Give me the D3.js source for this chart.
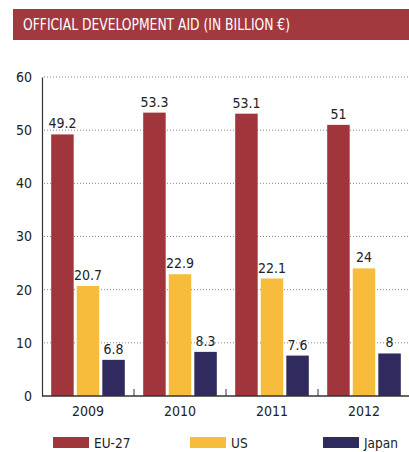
<!DOCTYPE html>
<html><head><meta charset="utf-8">
<script src="https://cdn.jsdelivr.net/npm/d3@7"></script>
<style>
html,body{margin:0;padding:0;background:#fff;}
svg{display:block;}
text{font-family:"DejaVu Sans Condensed","DejaVu Sans",sans-serif;}
</style></head>
<body><svg id="c" width="409" height="452"></svg>
<script>
const title = "OFFICIAL DEVELOPMENT AID (IN BILLION €)";
const years = ["2009","2010","2011","2012"];
const seriesNames = ["EU-27","US","Japan"];
const eu27 = [49.2, 53.3, 53.1, 51];
const us = [20.7, 22.9, 22.1, 24];
const japan = [6.8, 8.3, 7.6, 8];
const yTicks = [0,10,20,30,40,50,60];
const colors = ["#a0353b","#f8bc3c","#2f2b5f"];

const seriesValues = [eu27, us, japan];
const svg = d3.select("#c");

// title banner
svg.append("rect").attr("x",13).attr("y",9).attr("width",396).attr("height",31).attr("fill","#a2393e");
svg.append("text").attr("x",23).attr("y",30).attr("fill","#fff")
  .attr("font-size",16).attr("font-weight","500")
  .attr("textLength",267).attr("lengthAdjust","spacingAndGlyphs").text(title);

const plotLeft = 42, plotRight = 410, plotBottom = 396, plotTop = 77;
const y = d3.scaleLinear().domain([0,60]).range([plotBottom, plotTop]);
const x0 = d3.scaleBand().domain(years).range([plotLeft, plotRight]).paddingInner(0.2).paddingOuter(0.1);
const x1 = d3.scaleBand().domain(seriesNames).range([0, x0.bandwidth()]).paddingInner(0.12);

// gridlines
svg.append("g").selectAll("line").data(yTicks.filter(d=>d>0)).join("line")
  .attr("x1",plotLeft+2).attr("x2",409).attr("y1",d=>y(d)).attr("y2",d=>y(d))
  .attr("stroke","#888").attr("stroke-width",1).attr("stroke-dasharray","1,2");

// y axis
const yAxis = d3.axisLeft(y).tickValues(yTicks).tickSize(0).tickPadding(10);
const gy = svg.append("g").attr("transform",`translate(${plotLeft},0)`).call(yAxis);
gy.select(".domain").attr("stroke","#333").attr("stroke-width",1.2);
gy.selectAll("text").attr("font-size",14).attr("fill","#222").style("font-family",'"DejaVu Sans Condensed",sans-serif');

// bars
const groups = svg.append("g").selectAll("g").data(years).join("g")
  .attr("transform",d=>`translate(${x0(d)},0)`);
groups.selectAll("rect").data((d,i)=>seriesNames.map((s,j)=>({s, v:seriesValues[j][i], c:colors[j]}))).join("rect")
  .attr("x",d=>x1(d.s)).attr("width",x1.bandwidth())
  .attr("y",d=>y(d.v)).attr("height",d=>y(0)-y(d.v)).attr("fill",d=>d.c);
groups.selectAll("text.val").data((d,i)=>seriesNames.map((s,j)=>({s, v:seriesValues[j][i]}))).join("text")
  .attr("class","val").attr("x",d=>x1(d.s)+x1.bandwidth()/2).attr("y",d=>y(d.v)-6)
  .attr("text-anchor","middle").attr("font-size",14).attr("fill","#222").text(d=>d.v);

// x axis baseline with ticks between groups
const xAxis = d3.axisBottom(x0).tickSize(0).tickPadding(10);
const gx = svg.append("g").attr("transform",`translate(0,${plotBottom})`).call(xAxis);
gx.select(".domain").remove();
gx.selectAll("text").attr("font-size",14).attr("fill","#222").style("font-family",'"DejaVu Sans Condensed",sans-serif');
svg.append("line").attr("x1",plotLeft).attr("x2",409).attr("y1",plotBottom).attr("y2",plotBottom).attr("stroke","#333").attr("stroke-width",1.4);
svg.append("g").selectAll("line").data(years.slice(1)).join("line")
  .attr("x1",d=>x0(d)-x0.step()*x0.paddingInner()/2).attr("x2",d=>x0(d)-x0.step()*x0.paddingInner()/2)
  .attr("y1",plotBottom).attr("y2",plotBottom-7).attr("stroke","#333").attr("stroke-width",1);

// legend
const legX = [53,190,323];
const leg = svg.append("g").selectAll("g").data(seriesNames).join("g")
  .attr("transform",(d,i)=>`translate(${legX[i]},437)`);
leg.append("rect").attr("width",36).attr("height",11).attr("fill",(d,i)=>colors[i]);
leg.append("text").attr("x",41).attr("y",11).attr("font-size",13.5).attr("fill","#222").text(d=>d);
</script></body></html>
